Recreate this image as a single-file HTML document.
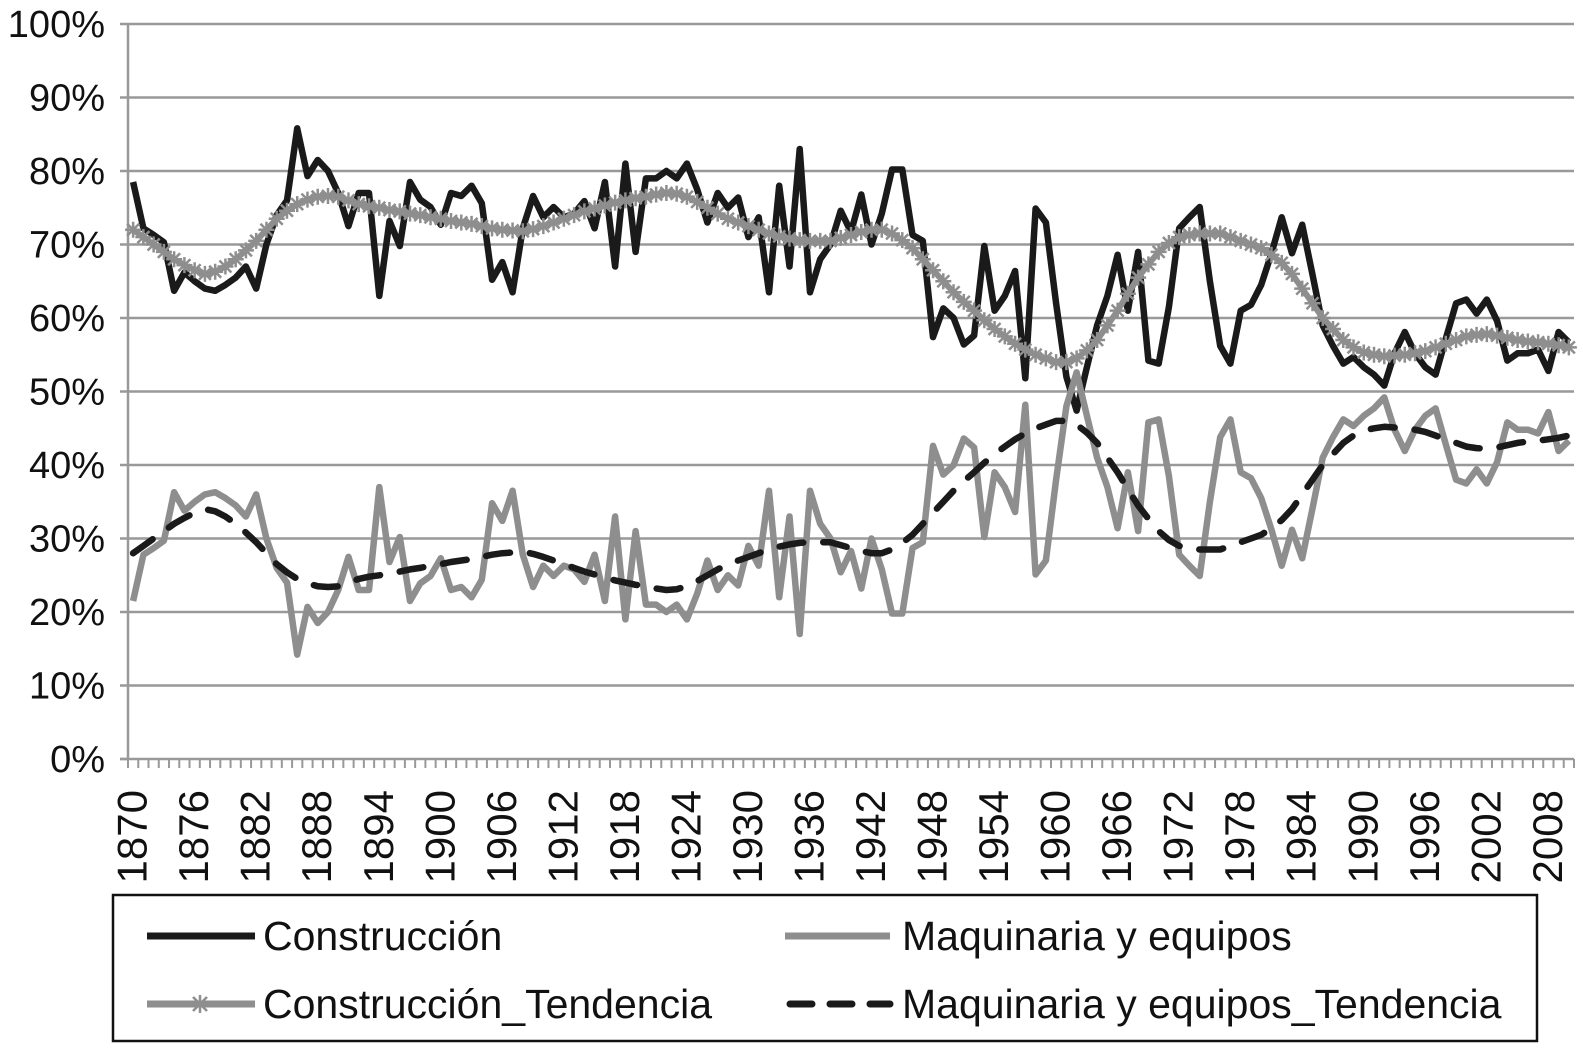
<!DOCTYPE html>
<html><head><meta charset="utf-8"><style>
html,body{margin:0;padding:0;background:#fff;}
svg{display:block;font-family:"Liberation Sans",Arial,sans-serif;}
</style></head><body>
<svg id="chart" width="1583" height="1049" viewBox="0 0 1583 1049" xmlns="http://www.w3.org/2000/svg">
<g id="grid"></g>
<g id="yaxis"></g>
<g id="xaxis"></g>
<g id="series"></g>
<g>
  <rect x="113" y="895" width="1424" height="146" fill="#fff" stroke="#111" stroke-width="2.5"/>
  <g>
    <line x1="147" y1="936" x2="255" y2="936" stroke="#1a1a1a" stroke-width="7"/>
    <text x="263" y="950" font-size="41" fill="#111">Construcción</text>
  </g>
  <g>
    <line x1="785" y1="936" x2="890" y2="936" stroke="#8e8e8e" stroke-width="7"/>
    <text x="902" y="950" font-size="41" fill="#111">Maquinaria y equipos</text>
  </g>
  <g>
    <line x1="147" y1="1004" x2="255" y2="1004" stroke="#8e8e8e" stroke-width="7"/>
    <path d="M191 1004h18M200 995v18M193 997l14 14M207 997l-14 14" stroke="#8e8e8e" stroke-width="2.5"/>
    <text x="263" y="1018" font-size="41" fill="#111">Construcción_Tendencia</text>
  </g>
  <g>
    <line x1="790" y1="1004" x2="890" y2="1004" stroke="#1a1a1a" stroke-width="7" stroke-dasharray="22 18" stroke-linecap="round"/>
    <text x="902" y="1018" font-size="41" fill="#111">Maquinaria y equipos_Tendencia</text>
  </g>
</g>
</svg>
<script>
const firstYear = 1870;
const tickLabels = ['1870','1876','1882','1888','1894','1900','1906','1912','1918','1924','1930','1936','1942','1948','1954','1960','1966','1972','1978','1984','1990','1996','2002','2008'];
const yTicks = [0,10,20,30,40,50,60,70,80,90,100];
const construccion = [78.5,72.2,71.3,70.3,63.7,66.2,65,64,63.7,64.5,
65.5,67,64,70,74,76,85.8,79.3,81.5,80,
77,72.5,77,77,63,73.2,69.8,78.5,76.1,75.1,
72.7,77,76.6,78,75.6,65.2,67.6,63.5,72.2,76.6,
73.7,75.1,73.7,74.2,75.9,72.2,78.5,67,81,69,
79,79,80,79,81,77.5,73,77,75,76.4,
71,73.7,63.5,78,67,83,63.5,68,70,74.6,
71.7,76.8,70,74.2,80.2,80.2,71.3,70.5,57.4,61.3,
60,56.4,57.6,69.8,61,63,66.4,51.8,74.9,73,
62,52,47.4,53.3,59,63,68.6,61,69,54.2,
53.8,61.5,72.2,73.7,75.1,65,56.2,53.8,61,61.8,
64.5,68.8,73.7,68.8,72.7,65.9,59,56.2,53.8,54.7,
53.3,52.3,50.8,55.2,58.1,55.2,53.3,52.3,57.2,62,
62.5,60.6,62.5,59.6,54.2,55.2,55.2,55.7,52.8,58.1,
56.7];
const maquinaria = [21.5,27.8,28.7,29.7,36.3,33.8,35,36,36.3,35.5,
34.5,33,36,30,26,24,14.2,20.7,18.5,20,
23,27.5,23,23,37,26.8,30.2,21.5,23.9,24.9,
27.3,23,23.4,22,24.4,34.8,32.4,36.5,27.8,23.4,
26.3,24.9,26.3,25.8,24.1,27.8,21.5,33,19,31,
21,21,20,21,19,22.5,27,23,25,23.6,
29,26.3,36.5,22,33,17,36.5,32,30,25.4,
28.3,23.2,30,25.8,19.8,19.8,28.7,29.5,42.6,38.7,
40,43.6,42.4,30.2,39,37,33.6,48.2,25.1,27,
38,48,52.6,46.7,41,37,31.4,39,31,45.8,
46.2,38.5,27.8,26.3,24.9,35,43.8,46.2,39,38.2,
35.5,31.2,26.3,31.2,27.3,34.1,41,43.8,46.2,45.3,
46.7,47.7,49.2,44.8,41.9,44.8,46.7,47.7,42.8,38,
37.5,39.4,37.5,40.4,45.8,44.8,44.8,44.3,47.2,41.9,
43.3];
const construccionTendencia = [72,71,70,69,68,67.2,66.5,66,66.3,67,
68,69.2,70.5,72,73.5,74.6,75.5,76.1,76.5,76.6,
76.5,76,75.5,75.2,75,74.7,74.5,74.2,74,73.7,
73.5,73.2,73,72.8,72.5,72.2,72,71.9,71.8,72.1,
72.5,73,73.5,74,74.5,74.9,75.3,75.7,76,76.3,
76.5,76.8,77,76.9,76.5,75.8,75,74.2,73.5,73,
72.5,72,71.5,71.1,70.8,70.6,70.5,70.5,70.5,70.9,
71.3,71.7,72,72,71.5,70.6,69.5,68,66.5,65,
63.5,62.2,61,59.7,58.5,57.5,56.5,55.7,55,54.5,
54,54,54.5,55.6,57,59,61,63.3,65.5,67.3,
69,70.2,71,71.3,71.5,71.5,71.5,71,70.5,70,
69.5,68.6,67.5,66,64,62,60,58.5,57,56,
55.3,55,54.8,54.9,55,55.2,55.5,56,56.5,57,
57.5,57.7,57.8,57.6,57.3,57,56.8,56.7,56.5,56.3,
56];
const maquinariaTendencia = [28,29,30,31,32,32.8,33.5,34,33.7,33,
32,30.8,29.5,28,26.5,25.4,24.5,23.9,23.5,23.4,
23.5,24,24.5,24.8,25,25.3,25.5,25.8,26,26.3,
26.5,26.8,27,27.2,27.5,27.8,28,28.1,28.2,27.9,
27.5,27,26.5,26,25.5,25.1,24.7,24.3,24,23.7,
23.5,23.2,23,23.1,23.5,24.2,25,25.8,26.5,27,
27.5,28,28.5,28.9,29.2,29.4,29.5,29.5,29.5,29.1,
28.7,28.3,28,28,28.5,29.4,30.5,32,33.5,35,
36.5,37.8,39,40.3,41.5,42.5,43.5,44.3,45,45.5,
46,46,45.5,44.4,43,41,39,36.7,34.5,32.7,
31,29.8,29,28.7,28.5,28.5,28.5,29,29.5,30,
30.5,31.4,32.5,34,36,38,40,41.5,43,44,
44.7,45,45.2,45.1,45,44.8,44.5,44,43.5,43,
42.5,42.3,42.2,42.4,42.7,43,43.2,43.3,43.5,43.7,
44];

const NS = 'http://www.w3.org/2000/svg';
const L = 128, R = 1574, T = 24, B = 759;
const n = construccion.length;
const band = (R - L) / n;
function x(i){ return L + (i + 0.5) * band; }
function y(v){ return B - (v / 100) * (B - T); }
function mk(tag, attrs, parent){
  const el = document.createElementNS(NS, tag);
  for (const k in attrs) el.setAttribute(k, attrs[k]);
  parent.appendChild(el);
  return el;
}
const grid = document.getElementById('grid');
const yaxis = document.getElementById('yaxis');
const xaxis = document.getElementById('xaxis');
const series = document.getElementById('series');

yTicks.forEach(v => {
  if (v > 0) {
    const g = mk('line', {x1: L, x2: R, y1: y(v), y2: y(v), stroke: '#999', 'stroke-width': 2.5}, grid);
    
    
  }
  const t = mk('line', {x1: L - 8, x2: L, y1: y(v), y2: y(v), stroke: '#999', 'stroke-width': 2.5}, yaxis);
  
  
  const lab = mk('text', {x: 105, y: y(v) + 13, 'text-anchor': 'end', 'font-size': 38, fill: '#111'}, yaxis);
  lab.textContent = v + '%';
  
  
});
const ya = mk('line', {x1: L, x2: L, y1: T, y2: B, stroke: '#999', 'stroke-width': 2.5}, yaxis);



const xa = mk('line', {x1: L - 8, x2: R, y1: B, y2: B, stroke: '#999', 'stroke-width': 2.5}, xaxis);


for (let i = 0; i <= n; i++) {
  const tk = mk('line', {x1: L + i * band, x2: L + i * band, y1: B, y2: B + 9, stroke: '#999', 'stroke-width': 2}, xaxis);
  
  
}
tickLabels.forEach(lbl => {
  const i = parseInt(lbl, 10) - firstYear;
  const cx = x(i) - 1, cy = 790;
  const t = mk('text', {x: cx, y: cy, 'text-anchor': 'end', 'font-size': 42, fill: '#111', 'dominant-baseline': 'central', transform: 'rotate(-90 ' + cx + ' ' + cy + ')'}, xaxis);
  t.textContent = lbl;
  
  
});

function pts(arr){ return arr.map((v, i) => x(i).toFixed(1) + ',' + y(v).toFixed(1)).join(' '); }

const c = mk('polyline', {points: pts(construccion), fill: 'none', stroke: '#1a1a1a', 'stroke-width': 6.5, 'stroke-linejoin': 'round'}, series);



const m = mk('polyline', {points: pts(maquinaria), fill: 'none', stroke: '#8e8e8e', 'stroke-width': 6.5, 'stroke-linejoin': 'round'}, series);



const ct = mk('polyline', {points: pts(construccionTendencia), fill: 'none', stroke: '#8e8e8e', 'stroke-width': 6, 'stroke-linejoin': 'round'}, series);


let d = '';
construccionTendencia.forEach((v, i) => {
  const px = x(i), py = y(v), s = 8;
  d += 'M' + (px - s) + ' ' + py + 'h' + (2 * s) + 'M' + px + ' ' + (py - s) + 'v' + (2 * s) +
       'M' + (px - 6) + ' ' + (py - 6) + 'l12 12M' + (px + 6) + ' ' + (py - 6) + 'l-12 12';
});
const mk1 = mk('path', {d: d, stroke: '#8e8e8e', 'stroke-width': 2.5, fill: 'none'}, series);



const mt = mk('polyline', {points: pts(maquinariaTendencia), fill: 'none', stroke: '#1a1a1a', 'stroke-width': 6.5, 'stroke-dasharray': '24 20', 'stroke-linecap': 'round', 'stroke-linejoin': 'round'}, series);


</script>
</body></html>
